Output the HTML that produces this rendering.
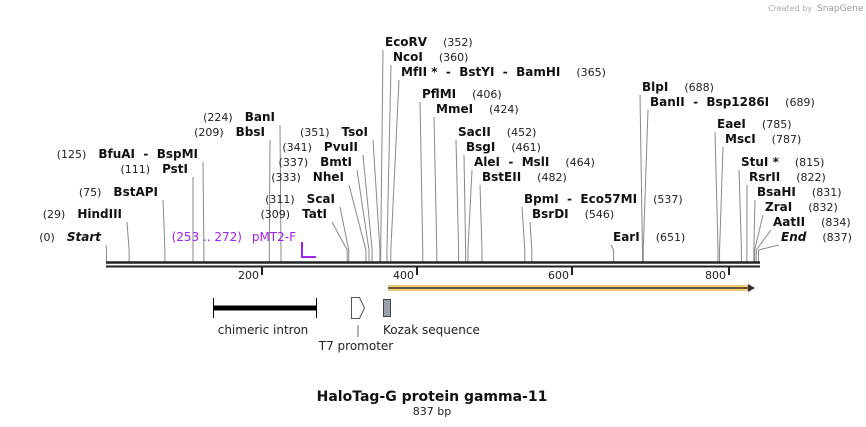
<!DOCTYPE html>
<html><head><style>
body{margin:0;background:#fff}
svg{display:block;font-family:"DejaVu Sans","Liberation Sans",sans-serif}
.n{font-size:11px;fill:#222}
.e{font-size:12px;font-weight:bold;fill:#111}
.l{stroke:#888;stroke-width:1;fill:none}
</style></head><body>
<svg width="866" height="427" viewBox="0 0 866 427">
<text x="768" y="11" font-size="8" fill="#aaa">Created by</text>
<text x="817" y="11" font-size="9" fill="#999">SnapGene</text>
<g id="lines"></g>
<line x1="106" y1="262.5" x2="760" y2="262.5" stroke="#222" stroke-width="2.5"/>
<line x1="106" y1="266.5" x2="760" y2="266.5" stroke="#222" stroke-width="2"/>
<g stroke="#222" stroke-width="2">
<line x1="262" y1="267" x2="262" y2="275"/><line x1="417" y1="267" x2="417" y2="275"/>
<line x1="572" y1="267" x2="572" y2="275"/><line x1="729" y1="267" x2="729" y2="275"/></g>
<g font-size="11" fill="#222" text-anchor="end">
<text x="259" y="279">200</text><text x="414" y="279">400</text><text x="569" y="279">600</text><text x="726" y="279">800</text></g>
<path d="M302 242V257H316" stroke="#a020f0" stroke-width="2" fill="none"/>
<text x="242" y="241" font-size="12" fill="#a020f0" text-anchor="end">(253 .. 272)</text>
<text x="296" y="241" font-size="12" fill="#a020f0" text-anchor="end">pMT2-F</text>
<line x1="388" y1="288" x2="750" y2="288" stroke="#f7c774" stroke-width="6"/>
<line x1="388" y1="288" x2="750" y2="288" stroke="#333" stroke-width="1.5"/>
<path d="M748 284L755 288L748 292Z" fill="#333"/>
<rect x="213" y="305.5" width="103" height="5" fill="#000"/>
<line x1="213.5" y1="298" x2="213.5" y2="318" stroke="#000"/><line x1="316.5" y1="298" x2="316.5" y2="318" stroke="#000"/>
<text x="263" y="334" font-size="12" text-anchor="middle" fill="#222">chimeric intron</text>
<path d="M351.5 297.5H359.5L364.5 308L359.5 318.5H351.5Z" fill="#fff" stroke="#555"/>
<line x1="358" y1="325" x2="358" y2="337" stroke="#666"/>
<text x="356" y="350" font-size="12" text-anchor="middle" fill="#222">T7 promoter</text>
<rect x="383.5" y="299.5" width="7" height="17" fill="#9aa0a8" stroke="#444"/>
<text x="383" y="334" font-size="12" fill="#222">Kozak sequence</text>
<text x="432" y="401" font-size="14" font-weight="bold" text-anchor="middle" fill="#111">HaloTag-G protein gamma-11</text>
<text x="432" y="415" font-size="11" text-anchor="middle" fill="#222">837 bp</text>
<g id="labs"></g>
</svg>
<script>
var X=b=>106.5+b*0.779;
var H=" \u00a0-\u00a0 ";
var R=[["EcoRV",352,46,385],["NcoI",360,61,393],["MfII *"+H+"BstYI"+H+"BamHI",365,76,401],["PflMI",406,98,422],["MmeI",424,113,436],["SacII",452,136,458],["BsgI",461,151,466],["AleI"+H+"MslI",464,166,474],["BstEII",482,181,482],["BpmI"+H+"Eco57MI",537,203,524],["BsrDI",546,218,532],["EarI",651,241,613],["BlpI",688,91,642],["BanII"+H+"Bsp1286I",689,106,650],["EaeI",785,128,717],["MscI",787,143,725],["StuI *",815,166,741],["RsrII",822,181,749],["BsaHI",831,196,757],["ZraI",832,211,765],["AatII",834,226,773],["End",837,241,781]];
var L=[["BanI",224,121,275],["BbsI",209,136,265],["TsoI",351,136,368],["PvuII",341,151,358],["BmtI",337,166,352],["NheI",333,181,344],["ScaI",311,203,335],["TatI",309,218,327],["BfuAI"+H+"BspMI",125,158,198],["PstI",111,173,188],["BstAPI",75,196,158],["HindIII",29,218,122],["Start",0,241,101]];
var ns="http://www.w3.org/2000/svg",g=document.getElementById("labs"),gl=document.getElementById("lines");
function t(x,y,s,c,a,it){var e=document.createElementNS(ns,"text");e.setAttribute("x",x);e.setAttribute("y",y);e.setAttribute("class",c);if(a)e.setAttribute("text-anchor",a);if(it)e.setAttribute("font-style","italic");e.textContent=s;g.appendChild(e);return e}
function ln(x1,y1,x2){var p=document.createElementNS(ns,"path");p.setAttribute("d","M"+x1+" "+(y1+4)+"L"+x2+" "+Math.max(y1+4,250)+"L"+x2+" 262");p.setAttribute("class","l");gl.appendChild(p)}
R.forEach(r=>{var e=t(r[3],r[2],r[0],"e",null,r[0]=="End");var w=e.getComputedTextLength();t(r[3]+w+16,r[2],"("+r[1]+")","n");ln(r[3]-2,r[2],X(r[1]))});
L.forEach(r=>{var e=t(r[3],r[2],r[0],"e","end",r[0]=="Start");var w=e.getComputedTextLength();t(r[3]-w-12,r[2],"("+r[1]+")","n","end");ln(r[3]+5,r[2],X(r[1]))});
</script>
</body></html>
